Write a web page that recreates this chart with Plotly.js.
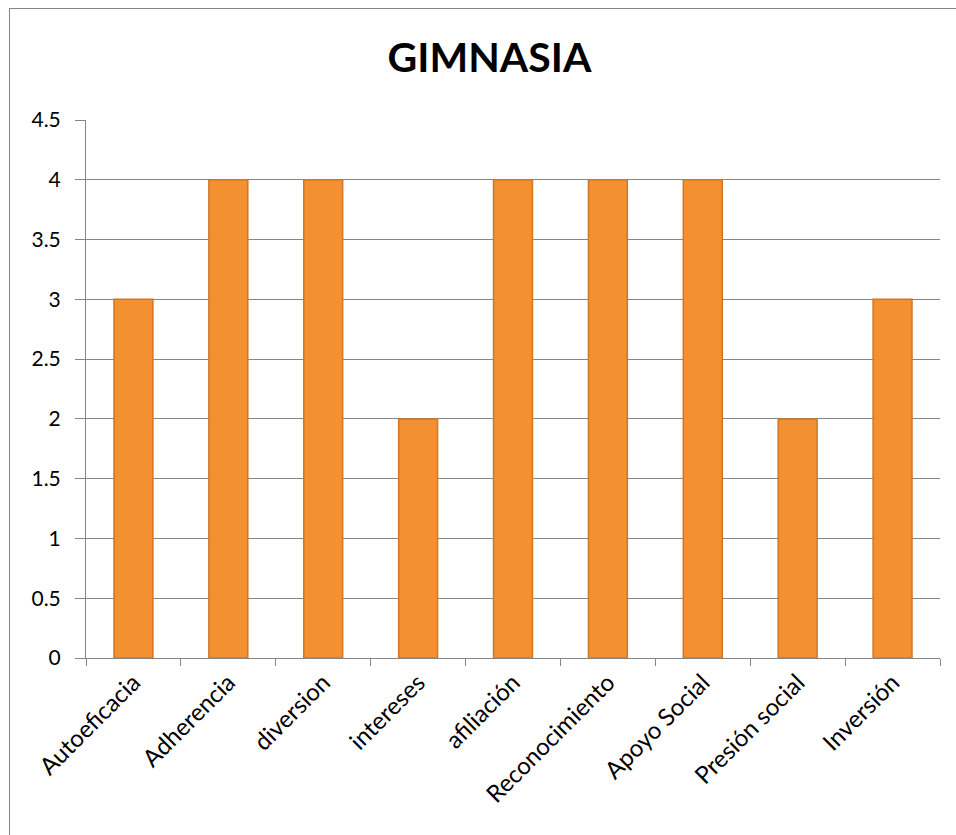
<!DOCTYPE html>
<html><head><meta charset="utf-8">
<script src="https://cdn.plot.ly/plotly-3.0.1.min.js"></script>
<style>
html,body{margin:0;padding:0;background:#fff;overflow:hidden;}
#frame{position:absolute;left:9px;top:8px;width:1000px;height:900px;border:1px solid #868686;pointer-events:none;z-index:5;}
#chart{position:absolute;left:0;top:0;width:956px;height:835px;}
</style></head>
<body>
<div id="chart"></div>
<div id="frame"></div>
<script>
const categories = ["Autoeficacia","Adherencia","diversion","intereses","afiliación","Reconocimiento","Apoyo Social","Presión social","Inversión"];
const values = [3,4,4,2,4,4,4,2,3];
const yTicks = [0,0.5,1,1.5,2,2.5,3,3.5,4,4.5];
const yTickLabels = ["0","0.5","1","1.5","2","2.5","3","3.5","4","4.5"];

const font = "Lato, 'Open Sans', sans-serif";
Plotly.newPlot("chart", [{
  type: "bar",
  x: categories,
  y: values,
  marker: {color: "#F39130", line: {color: "#D27526", width: 1.5}},
  hoverinfo: "skip"
}], {
  width: 956, height: 835,
  margin: {l: 86, r: 16, t: 120, b: 177},
  paper_bgcolor: "#fff", plot_bgcolor: "#fff",
  bargap: 0.59,
  title: {text: "<b>GIMNASIA</b>", x: 0.512, xanchor: "center", y: 0.9305, yanchor: "middle",
          font: {family: font, size: 41, color: "#000"}},
  xaxis: {type: "category", showgrid: false, showline: true, linecolor: "#868686", linewidth: 1,
          ticks: "outside", ticklen: 7, tickcolor: "#868686", tickson: "boundaries",
          tickangle: -45, tickfont: {family: font, size: 24, color: "#000"}, fixedrange: true},
  yaxis: {range: [0, 4.5], tickvals: yTicks, ticktext: yTickLabels, showgrid: true, gridcolor: "#868686",
          gridwidth: 1, showline: true, linecolor: "#868686", ticks: "outside", ticklen: 10,
          tickcolor: "#868686", zeroline: false, ticklabelstandoff: 10,
          tickfont: {family: font, size: 21, color: "#000"}, fixedrange: true}
}, {displayModeBar: false, staticPlot: true});
</script>
</body></html>
